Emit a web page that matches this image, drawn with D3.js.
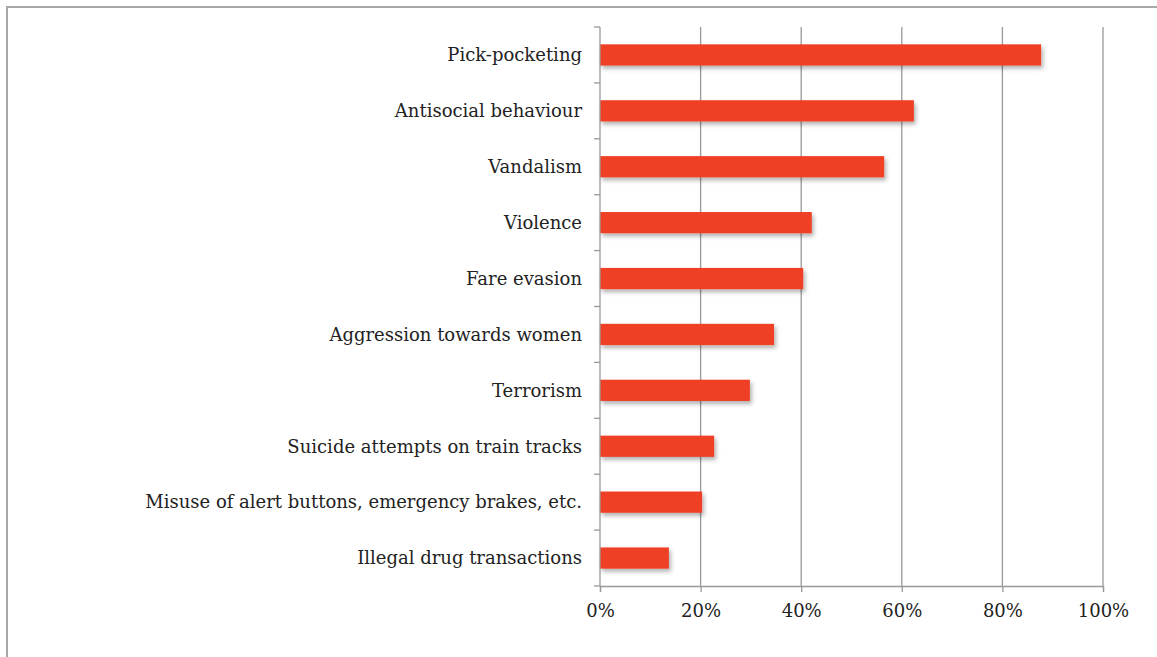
<!DOCTYPE html>
<html>
<head>
<meta charset="utf-8">
<script src="https://cdn.jsdelivr.net/npm/d3@7"></script>
<style>
  body { margin: 0; background: #fff; }
  svg text { font-family: "DejaVu Serif", "Liberation Serif", serif; fill: #222; }
</style>
</head>
<body>
<svg id="chart" width="1157" height="657"></svg>
<script>
// Categories top to bottom and their share (0-1)
const categories = [
    "Pick-pocketing",
    "Antisocial behaviour",
    "Vandalism",
    "Violence",
    "Fare evasion",
    "Aggression towards women",
    "Terrorism",
    "Suicide attempts on train tracks",
    "Misuse of alert buttons, emergency brakes, etc.",
    "Illegal drug transactions"
];
const shares = [0.877, 0.624, 0.565, 0.421, 0.404, 0.346, 0.298, 0.227, 0.203, 0.137];
const tickValues = [0, 0.2, 0.4, 0.6, 0.8, 1.0];

const data = categories.map((c, i) => ({ name: c, value: shares[i] }));

const margin = { top: 27, left: 600, right: 54, bottom: 71 };
const width = 1157, height = 657;

const svg = d3.select("#chart");

// outer frame (chart area border, cut off at right/bottom)
svg.append("rect")
    .attr("x", 7).attr("y", 7)
    .attr("width", 1170).attr("height", 680)
    .attr("fill", "none")
    .attr("stroke", "#a8a8a8")
    .attr("stroke-width", 2);

const defs = svg.append("defs");
const shadow = defs.append("filter").attr("id", "shadow")
    .attr("x", "-5%").attr("y", "-20%").attr("width", "115%").attr("height", "160%");
shadow.append("feDropShadow")
    .attr("dx", 2).attr("dy", 3).attr("stdDeviation", 2)
    .attr("flood-color", "#000").attr("flood-opacity", 0.3);

const x = d3.scaleLinear()
    .domain([0, 1])
    .range([margin.left, width - margin.right]);

const y = d3.scaleBand()
    .domain(categories)
    .range([margin.top, height - margin.bottom])
    .paddingInner(0.62)
    .paddingOuter(0.31);

const plotBottom = height - margin.bottom;

// vertical gridlines
svg.append("g")
    .selectAll("line")
    .data(tickValues.slice(1))
    .join("line")
    .attr("x1", d => x(d)).attr("x2", d => x(d))
    .attr("y1", margin.top).attr("y2", plotBottom)
    .attr("stroke", "#999")
    .attr("stroke-width", 1.3);

// bars
svg.append("g")
    .selectAll("rect")
    .data(data)
    .join("rect")
    .attr("x", x(0))
    .attr("y", d => y(d.name))
    .attr("width", d => x(d.value) - x(0))
    .attr("height", y.bandwidth())
    .attr("fill", "#ef4026")
    .attr("filter", "url(#shadow)");

// x axis
const xAxis = svg.append("g")
    .attr("transform", `translate(0,${plotBottom})`)
    .call(d3.axisBottom(x).tickValues(tickValues).tickFormat(d3.format(".0%")).tickSize(6).tickPadding(12));
xAxis.select(".domain").attr("stroke", "#999").attr("stroke-width", 1.3);
xAxis.selectAll(".tick line").attr("stroke", "#999").attr("stroke-width", 1.3);
xAxis.selectAll("text").attr("font-size", 18).style("fill", "#222");

// y axis with ticks between categories
const step = y.step();
const boundaries = d3.range(categories.length + 1).map(i => margin.top + i * step);
const yAxisG = svg.append("g");
yAxisG.append("line")
    .attr("x1", x(0)).attr("x2", x(0))
    .attr("y1", margin.top).attr("y2", plotBottom)
    .attr("stroke", "#999").attr("stroke-width", 1.3);
yAxisG.selectAll(".btick")
    .data(boundaries)
    .join("line")
    .attr("class", "btick")
    .attr("x1", x(0) - 6).attr("x2", x(0))
    .attr("y1", d => d).attr("y2", d => d)
    .attr("stroke", "#999").attr("stroke-width", 1.3);

yAxisG.selectAll("text")
    .data(categories)
    .join("text")
    .attr("x", x(0) - 18)
    .attr("y", d => y(d) + y.bandwidth() / 2)
    .attr("dy", "0.35em")
    .attr("text-anchor", "end")
    .attr("font-size", 18)
    .text(d => d);
</script>
</body>
</html>
